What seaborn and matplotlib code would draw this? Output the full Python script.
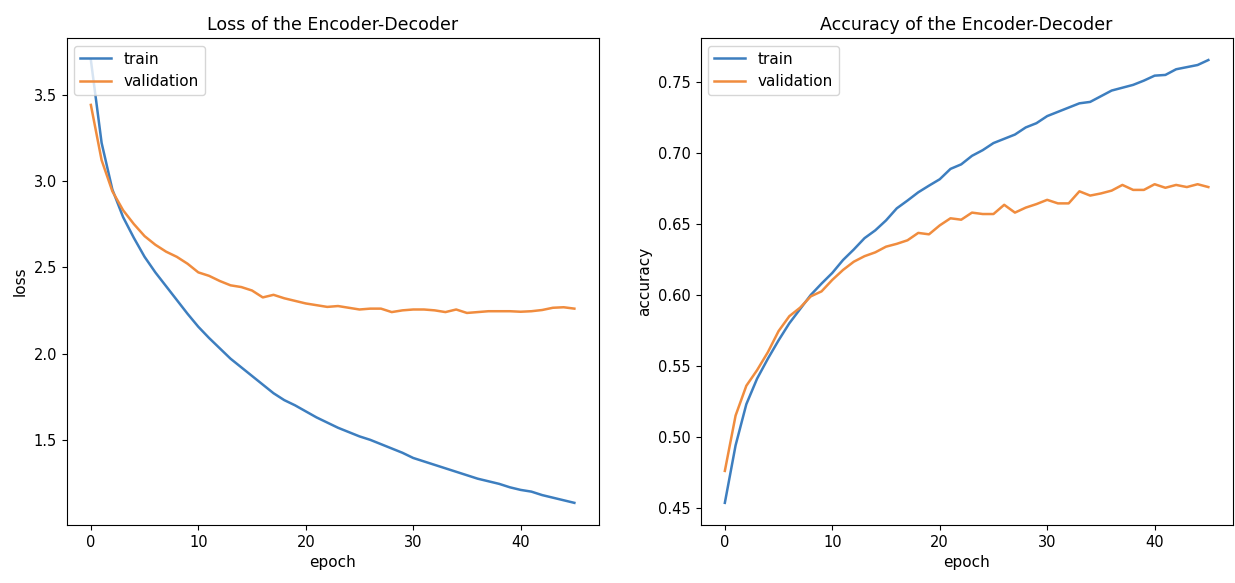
import numpy as np
import pandas as pd
import matplotlib
matplotlib.use("Agg")
import matplotlib.pyplot as plt
import seaborn as sns

# -------------------------------
# Data (46 epochs)
# -------------------------------
epochs = list(range(46))

train_loss = [3.70, 3.22, 2.95, 2.79, 2.67, 2.56, 2.47, 2.39, 2.31, 2.23,
              2.155, 2.09, 2.03, 1.97, 1.92, 1.87, 1.82, 1.77, 1.73, 1.70,
              1.665, 1.63, 1.60, 1.57, 1.545, 1.52, 1.50, 1.475, 1.45, 1.425,
              1.395, 1.375, 1.355, 1.335, 1.315, 1.295, 1.275, 1.26, 1.245, 1.225,
              1.21, 1.20, 1.18, 1.165, 1.15, 1.135]

val_loss = [3.44, 3.12, 2.94, 2.83, 2.75, 2.68, 2.63, 2.59, 2.56, 2.52,
            2.47, 2.45, 2.42, 2.395, 2.385, 2.365, 2.325, 2.34, 2.32, 2.305,
            2.29, 2.28, 2.27, 2.275, 2.265, 2.255, 2.26, 2.26, 2.24, 2.25,
            2.255, 2.255, 2.25, 2.24, 2.255, 2.235, 2.24, 2.245, 2.245, 2.245,
            2.242, 2.245, 2.252, 2.265, 2.268, 2.26]

train_acc = [0.4535, 0.494, 0.523, 0.541, 0.555, 0.568, 0.580, 0.590, 0.600, 0.608,
             0.6155, 0.6246, 0.632, 0.640, 0.6455, 0.6525, 0.661, 0.6665, 0.6723, 0.677,
             0.6815, 0.6888, 0.692, 0.698, 0.702, 0.707, 0.710, 0.713, 0.718, 0.721,
             0.726, 0.729, 0.732, 0.735, 0.736, 0.740, 0.744, 0.746, 0.748, 0.751,
             0.7545, 0.755, 0.759, 0.7605, 0.762, 0.7655]

val_acc = [0.476, 0.515, 0.536, 0.547, 0.5596, 0.5745, 0.585, 0.591, 0.599, 0.6025,
           0.6106, 0.6176, 0.6234, 0.6273, 0.630, 0.634, 0.636, 0.6385, 0.6437, 0.6427,
           0.649, 0.654, 0.653, 0.658, 0.657, 0.657, 0.6635, 0.658, 0.6615, 0.664,
           0.667, 0.6645, 0.6645, 0.673, 0.670, 0.6715, 0.6735, 0.6775, 0.674, 0.674,
           0.678, 0.6755, 0.6775, 0.676, 0.678, 0.676]

blue = "#3d7ebf"
orange = "#f08c3e"

# -------------------------------
# Plot
# -------------------------------
fig, axes = plt.subplots(1, 2, figsize=(12.35, 5.83), dpi=100)
fig.subplots_adjust(left=0.054, right=0.998, top=0.935, bottom=0.0995, wspace=0.192)

# loss
ax = axes[0]
sns.lineplot(x=epochs, y=train_loss, ax=ax, color=blue, label="train", linewidth=1.8)
sns.lineplot(x=epochs, y=val_loss, ax=ax, color=orange, label="validation", linewidth=1.8)
ax.set_title("Loss of the Encoder-Decoder", fontsize=12.5)
ax.set_xlabel("epoch", fontsize=11)
ax.set_ylabel("loss", fontsize=11)
ax.set_xticks([0, 10, 20, 30, 40])
ax.set_yticks([1.5, 2.0, 2.5, 3.0, 3.5])
ax.legend(loc="upper left", fontsize=11)

# accuracy
ax = axes[1]
sns.lineplot(x=epochs, y=train_acc, ax=ax, color=blue, label="train", linewidth=1.8)
sns.lineplot(x=epochs, y=val_acc, ax=ax, color=orange, label="validation", linewidth=1.8)
ax.set_title("Accuracy of the Encoder-Decoder", fontsize=12.5)
ax.set_xlabel("epoch", fontsize=11)
ax.set_ylabel("accuracy", fontsize=11)
ax.set_xticks([0, 10, 20, 30, 40])
ax.set_yticks([0.45, 0.50, 0.55, 0.60, 0.65, 0.70, 0.75])
ax.legend(loc="upper left", fontsize=11)

for ax in axes:
    ax.tick_params(labelsize=10.5)

plt.savefig("out.png", dpi=100)
